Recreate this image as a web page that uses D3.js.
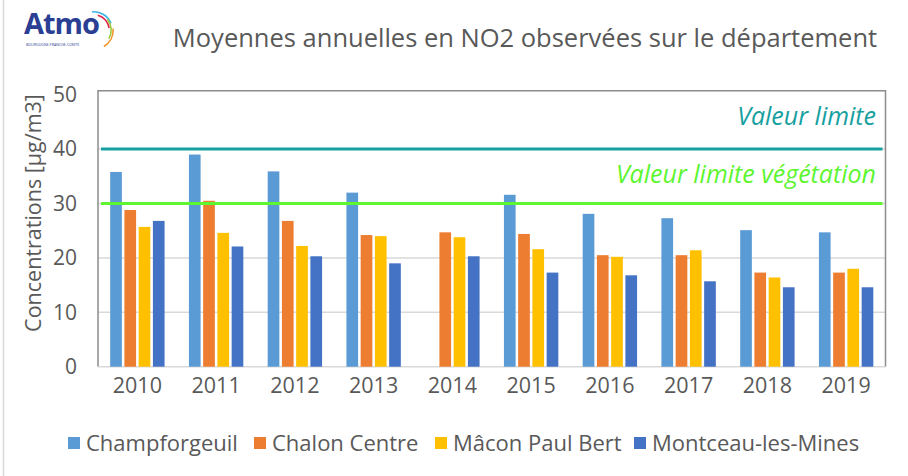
<!DOCTYPE html>
<html>
<head>
<meta charset="utf-8">
<script src="https://cdn.jsdelivr.net/npm/d3@7"></script>
<style>
  body { margin: 0; background: #fff; }
  text { font-family: "Open Sans", "Noto Sans", sans-serif; }
</style>
</head>
<body>
<div id="NO2BarPlot"></div>
<script>
// data
let years = ["2010", "2011", "2012", "2013", "2014", "2015", "2016", "2017", "2018", "2019"];
let stations = ["Champforgeuil", "Chalon Centre", "Mâcon Paul Bert", "Montceau-les-Mines"];
let champforgeuil = [35.8, 39.0, 35.9, 32.0, null, 31.6, 28.1, 27.3, 25.1, 24.7];
let chalonCentre = [28.8, 30.5, 26.8, 24.2, 24.7, 24.4, 20.5, 20.5, 17.3, 17.3];
let maconPaulBert = [25.7, 24.6, 22.2, 24.0, 23.8, 21.6, 20.2, 21.4, 16.4, 18.0];
let montceau = [26.8, 22.1, 20.3, 19.0, 20.3, 17.3, 16.8, 15.7, 14.6, 14.6];
let yTicks = [0, 10, 20, 30, 40, 50];
let limits = [
  { label: "Valeur limite", value: 40, color: "#16a0a0", dy: -24 },
  { label: "Valeur limite végétation", value: 30, color: "#5ef531", dy: -21 }
];

let colors = ["#5b9bd5", "#ed7d31", "#ffc000", "#4472c4"];
let series = [champforgeuil, chalonCentre, maconPaulBert, montceau];

// plot config
let width = 908;
let height = 476;
let plotLeft = 98;
let plotRight = 885.5;
let plotTop = 94.7;
let plotBottom = 366.7;
let textColor = "#595959";

let data = [];
years.forEach((yr, i) => {
  series.forEach((s, j) => {
    if (s[i] !== null) data.push({ x: yr, i: j, value: s[i] });
  });
});

let svg = d3
  .select("#NO2BarPlot")
  .append("svg")
  .attr("width", width)
  .attr("height", height);

let x = d3.scaleBand().domain(years).range([plotLeft, plotRight]);
let xInner = d3
  .scaleBand()
  .domain(d3.range(stations.length))
  .range([x.bandwidth() / 2 - 27.2, x.bandwidth() / 2 + 27.2])
  .paddingInner(0.18);
let y = d3.scaleLinear().domain([0, 50]).range([plotBottom, plotTop]);

// outer chart border (left edge only visible)
svg
  .append("line")
  .attr("x1", 3.5)
  .attr("x2", 3.5)
  .attr("y1", 0)
  .attr("y2", height)
  .style("stroke", "#d9d9d9")
  .style("stroke-width", 1.5);

// logo
let logo = svg.append("g").attr("transform", "translate(24,8)");
logo
  .append("text")
  .attr("x", 0)
  .attr("y", 26)
  .style("font-size", "29px")
  .style("font-weight", "bold")
  .style("letter-spacing", "-1px")
  .style("fill", "#2a3f94")
  .text("Atmo");
logo
  .append("text")
  .attr("x", 2)
  .attr("y", 38)
  .style("font-size", "3.6px")
  .style("fill", "#2a3f94")
  .text("BOURGOGNE-FRANCHE-COMTÉ");
[
  { r: 19, c: "#3cb4e5", a0: -0.1, a1: 1.2 },
  { r: 16, c: "#e2254d", a0: 0.25, a1: 1.45 },
  { r: 18, c: "#9bc83b", a0: 0.9, a1: 2.1 },
  { r: 20, c: "#f39220", a0: 1.5, a1: 2.6 }
].forEach(d => {
  logo
    .append("path")
    .attr("transform", "translate(70,22)")
    .attr("d", d3.arc()({ innerRadius: d.r - 1.6, outerRadius: d.r, startAngle: d.a0, endAngle: d.a1 }))
    .style("fill", d.c);
});

// title
svg
  .append("text")
  .attr("x", 525)
  .attr("y", 47)
  .style("text-anchor", "middle")
  .style("font-size", "25.5px")
  .style("fill", textColor)
  .text("Moyennes annuelles en NO2 observées sur le département");

// gridlines
svg
  .append("g")
  .selectAll("line")
  .data(yTicks.filter(t => t > 0 && t < 50))
  .enter()
  .append("line")
  .attr("x1", plotLeft)
  .attr("x2", plotRight)
  .attr("y1", d => y(d))
  .attr("y2", d => y(d))
  .style("stroke", "#d9d9d9")
  .style("stroke-width", 1.5);

// plot area frame
svg
  .append("path")
  .attr("d", `M${plotRight},${plotBottom}V90.7H${plotLeft}V${plotBottom}`)
  .style("fill", "none")
  .style("stroke", "#8c8c8c")
  .style("stroke-width", 1.5);
svg
  .append("line")
  .attr("x1", plotLeft)
  .attr("x2", plotRight)
  .attr("y1", y(0))
  .attr("y2", y(0))
  .style("stroke", "#d9d9d9")
  .style("stroke-width", 1.5);

// y axis
let yAxis = d3.axisLeft(y).tickValues(yTicks).tickSize(0).tickPadding(21);
let yG = svg.append("g").attr("transform", "translate(" + plotLeft + ",0)").call(yAxis);
yG.select(".domain").remove();
yG.selectAll("text")
  .style("font-size", "21px")
  .style("fill", textColor)
  .style("font-family", "'Open Sans', sans-serif");

svg
  .append("text")
  .attr("transform", "rotate(-90)")
  .attr("x", -213)
  .attr("y", 33)
  .attr("dy", "0.35em")
  .style("text-anchor", "middle")
  .style("font-size", "21.5px")
  .style("fill", textColor)
  .text("Concentrations [µg/m3]");

// x axis
let xAxis = d3.axisBottom(x).tickSize(0).tickPadding(11);
let xG = svg.append("g").attr("transform", "translate(0," + plotBottom + ")").call(xAxis);
xG.select(".domain").remove();
xG.selectAll("text")
  .style("font-size", "21.5px")
  .style("fill", textColor)
  .style("font-family", "'Open Sans', sans-serif");

// bars
svg
  .append("g")
  .selectAll("rect")
  .data(data)
  .enter()
  .append("rect")
  .attr("x", d => x(d.x) + xInner(d.i))
  .attr("y", d => y(d.value))
  .attr("width", xInner.bandwidth())
  .attr("height", d => y(0) - y(d.value))
  .attr("fill", d => colors[d.i]);

// limit lines
let lim = svg.append("g").selectAll("g").data(limits).enter().append("g");
lim
  .append("line")
  .attr("x1", plotLeft + 3)
  .attr("x2", plotRight - 3)
  .attr("y1", d => y(d.value))
  .attr("y2", d => y(d.value))
  .style("stroke", d => d.color)
  .style("stroke-width", 3);
lim
  .append("text")
  .attr("x", 876)
  .attr("y", d => y(d.value) + d.dy)
  .style("text-anchor", "end")
  .style("font-style", "italic")
  .style("font-size", "25px")
  .style("fill", d => d.color)
  .text(d => d.label);

// legend
let legendX = [68, 254, 435, 634];
let legend = svg
  .append("g")
  .selectAll("g")
  .data(stations)
  .enter()
  .append("g")
  .attr("transform", (d, i) => "translate(" + legendX[i] + ",443)");
legend
  .append("rect")
  .attr("x", 0)
  .attr("y", -6)
  .attr("width", 12)
  .attr("height", 12)
  .attr("fill", (d, i) => colors[i]);
legend
  .append("text")
  .attr("x", 18)
  .attr("dy", "0.35em")
  .style("font-size", "22px")
  .style("fill", textColor)
  .text(d => d);
</script>
</body>
</html>
